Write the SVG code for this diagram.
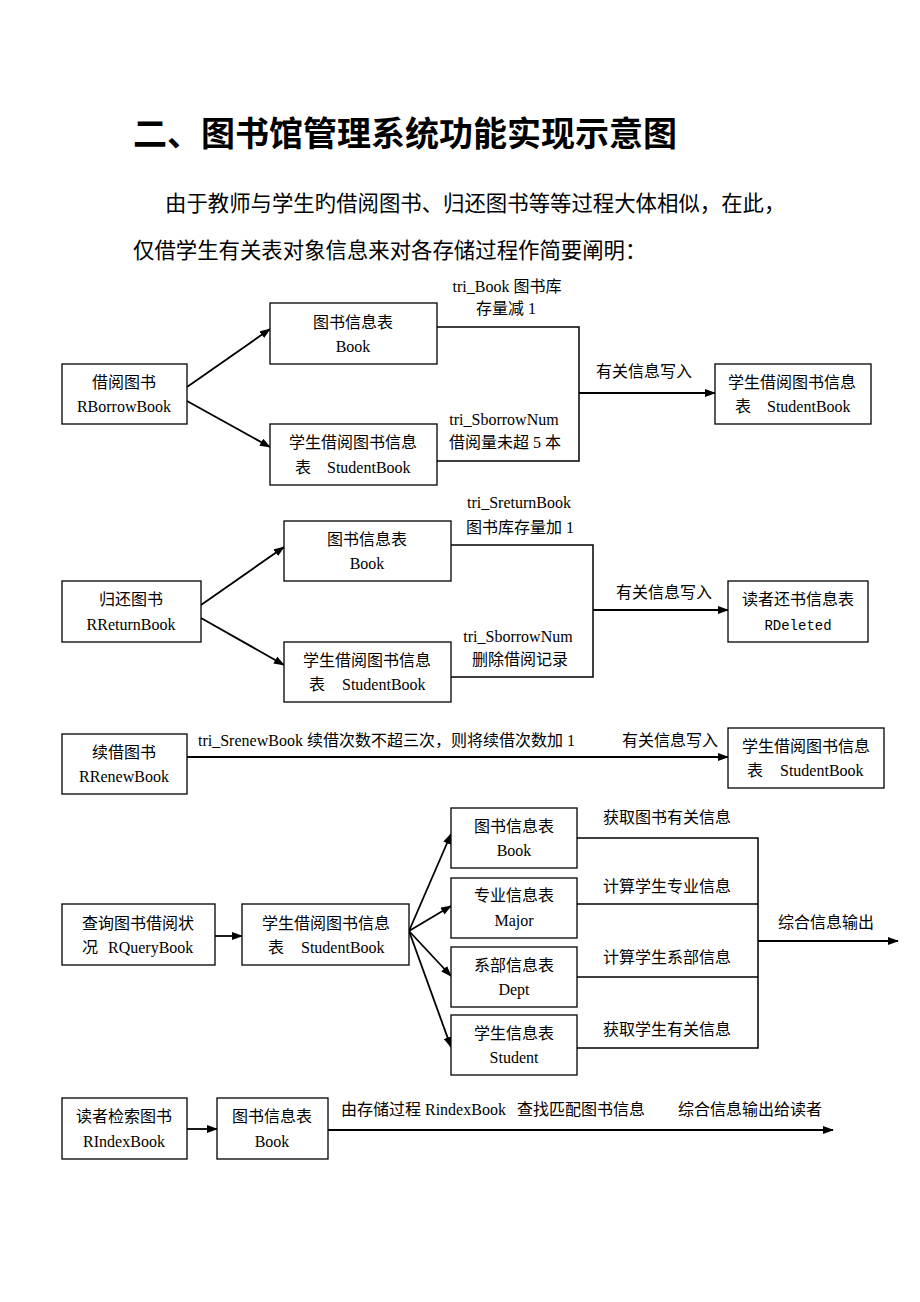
<svg xmlns="http://www.w3.org/2000/svg" width="920" height="1302" viewBox="0 0 920 1302">
<defs>
<marker id="ah" markerUnits="userSpaceOnUse" markerWidth="11" markerHeight="8" refX="10" refY="4" orient="auto">
<path d="M0,0 L11,4 L0,8 z" fill="#000"/>
</marker>
<style>
text{font-family:"Liberation Serif","Noto Sans CJK SC",serif;font-size:16px;fill:#000}
.c{text-anchor:middle}
.mono{font-family:"Liberation Mono","Noto Sans CJK SC",monospace;font-size:14px}
.title{font-family:"Noto Sans CJK SC",sans-serif;font-size:34px;font-weight:bold}
.para{font-size:21.4px}
rect{fill:#fff;stroke:#000;stroke-width:1.3}
.ln{fill:none;stroke:#000;stroke-width:1.5}
.ar{fill:none;stroke:#000;stroke-width:1.8;marker-end:url(#ah)}
</style>
</defs>
<rect x="0" y="0" width="920" height="1302" style="stroke:none;fill:#fff"/>
<g id="heading">
<text class="title" x="133" y="146">二、图书馆管理系统功能实现示意图</text>
<text class="para" x="165" y="211">由于教师与学生旳借阅图书、归还图书等等过程大体相似，在此，</text>
<text class="para" x="133" y="258">仅借学生有关表对象信息来对各存储过程作简要阐明：</text>
</g>
<g id="connectors">
<line class="ar" x1="187" y1="387" x2="270" y2="329"/>
<line class="ar" x1="187" y1="401" x2="270" y2="447"/>
<polyline class="ln" points="437,327 579,327 579,461 437,461"/>
<line class="ar" x1="579" y1="393" x2="715" y2="393"/>
<line class="ar" x1="201" y1="605" x2="284" y2="547"/>
<line class="ar" x1="201" y1="618" x2="284" y2="665"/>
<polyline class="ln" points="451,545 593,545 593,677 451,677"/>
<line class="ar" x1="593" y1="610" x2="728" y2="610"/>
<line class="ar" x1="187" y1="757" x2="728" y2="757"/>
<line class="ar" x1="215" y1="936" x2="242" y2="936"/>
<line class="ar" x1="409" y1="931" x2="451" y2="834"/>
<line class="ar" x1="409" y1="931" x2="451" y2="906"/>
<line class="ar" x1="409" y1="931" x2="451" y2="976"/>
<line class="ar" x1="409" y1="931" x2="451" y2="1047"/>
<polyline class="ln" points="577,838 758,838 758,1048 577,1048"/>
<line class="ln" x1="577" y1="904" x2="758" y2="904"/>
<line class="ln" x1="577" y1="977" x2="758" y2="977"/>
<line class="ar" x1="758" y1="941" x2="898" y2="941"/>
<line class="ar" x1="187" y1="1129" x2="217" y2="1129"/>
<line class="ar" x1="328" y1="1130" x2="833" y2="1130"/>
</g>
<g id="edge-labels">
<text class="c" x="507" y="292">tri_Book 图书库</text>
<text class="c" x="506" y="314">存量减 1</text>
<text class="c" x="644" y="377">有关信息写入</text>
<text class="c" x="504" y="425">tri_SborrowNum</text>
<text class="c" x="505" y="448">借阅量未超 5 本</text>
<text class="c" x="519" y="508">tri_SreturnBook</text>
<text class="c" x="520" y="533">图书库存量加 1</text>
<text class="c" x="664" y="598">有关信息写入</text>
<text class="c" x="518" y="642">tri_SborrowNum</text>
<text class="c" x="520" y="665">删除借阅记录</text>
<text x="198" y="746">tri_SrenewBook 续借次数不超三次，则将续借次数加 1</text>
<text class="c" x="670" y="746">有关信息写入</text>
<text class="c" x="667" y="823">获取图书有关信息</text>
<text class="c" x="667" y="892">计算学生专业信息</text>
<text class="c" x="667" y="963">计算学生系部信息</text>
<text class="c" x="667" y="1035">获取学生有关信息</text>
<text class="c" x="826" y="928">综合信息输出</text>
<text x="341" y="1115">由存储过程 RindexBook<tspan x="517">查找匹配图书信息</tspan></text>
<text x="678" y="1115">综合信息输出给读者</text>
</g>
<g id="n-borrow"><rect x="62" y="364" width="125" height="60"/><text class="c" x="124" y="388">借阅图书</text><text class="c" x="124" y="412">RBorrowBook</text></g>
<g id="n-book1"><rect x="270" y="303" width="167" height="61"/><text class="c" x="353" y="328">图书信息表</text><text class="c" x="353" y="352">Book</text></g>
<g id="n-sb1"><rect x="270" y="424" width="167" height="61"/><text x="289" y="448">学生借阅图书信息</text><text x="295" y="473">表</text><text x="327" y="473">StudentBook</text></g>
<g id="n-sb1t"><rect x="715" y="364" width="156" height="60"/><text x="728" y="388">学生借阅图书信息</text><text x="735" y="412">表</text><text x="767" y="412">StudentBook</text></g>
<g id="n-return"><rect x="62" y="581" width="139" height="61"/><text class="c" x="131" y="605">归还图书</text><text class="c" x="131" y="630">RReturnBook</text></g>
<g id="n-book2"><rect x="284" y="521" width="167" height="60"/><text class="c" x="367" y="545">图书信息表</text><text class="c" x="367" y="569">Book</text></g>
<g id="n-sb2"><rect x="284" y="642" width="167" height="60"/><text x="303" y="666">学生借阅图书信息</text><text x="309" y="690">表</text><text x="342" y="690">StudentBook</text></g>
<g id="n-rdeleted"><rect x="728" y="581" width="140" height="61"/><text class="c" x="798" y="605">读者还书信息表</text><text class="c mono" x="798" y="630">RDeleted</text></g>
<g id="n-renew"><rect x="62" y="734" width="125" height="60"/><text class="c" x="124" y="758">续借图书</text><text class="c" x="124" y="782">RRenewBook</text></g>
<g id="n-sb3"><rect x="728" y="728" width="156" height="60"/><text x="742" y="752">学生借阅图书信息</text><text x="747" y="776">表</text><text x="780" y="776">StudentBook</text></g>
<g id="n-query"><rect x="62" y="904" width="153" height="61"/><text x="82" y="929">查询图书借阅状</text><text x="82" y="953">况</text><text x="108" y="953">RQueryBook</text></g>
<g id="n-sb4"><rect x="242" y="904" width="167" height="61"/><text x="262" y="929">学生借阅图书信息</text><text x="268" y="953">表</text><text x="301" y="953">StudentBook</text></g>
<g id="n-book4"><rect x="451" y="808" width="126" height="60"/><text class="c" x="514" y="832">图书信息表</text><text class="c" x="514" y="856">Book</text></g>
<g id="n-major"><rect x="451" y="878" width="126" height="60"/><text class="c" x="514" y="901">专业信息表</text><text class="c" x="514" y="926">Major</text></g>
<g id="n-dept"><rect x="451" y="947" width="126" height="60"/><text class="c" x="514" y="971">系部信息表</text><text class="c" x="514" y="995">Dept</text></g>
<g id="n-student"><rect x="451" y="1015" width="126" height="60"/><text class="c" x="514" y="1039">学生信息表</text><text class="c" x="514" y="1063">Student</text></g>
<g id="n-index"><rect x="62" y="1098" width="125" height="61"/><text class="c" x="124" y="1122">读者检索图书</text><text class="c" x="124" y="1147">RIndexBook</text></g>
<g id="n-book5"><rect x="217" y="1098" width="111" height="61"/><text class="c" x="272" y="1122">图书信息表</text><text class="c" x="272" y="1147">Book</text></g>
</svg>
